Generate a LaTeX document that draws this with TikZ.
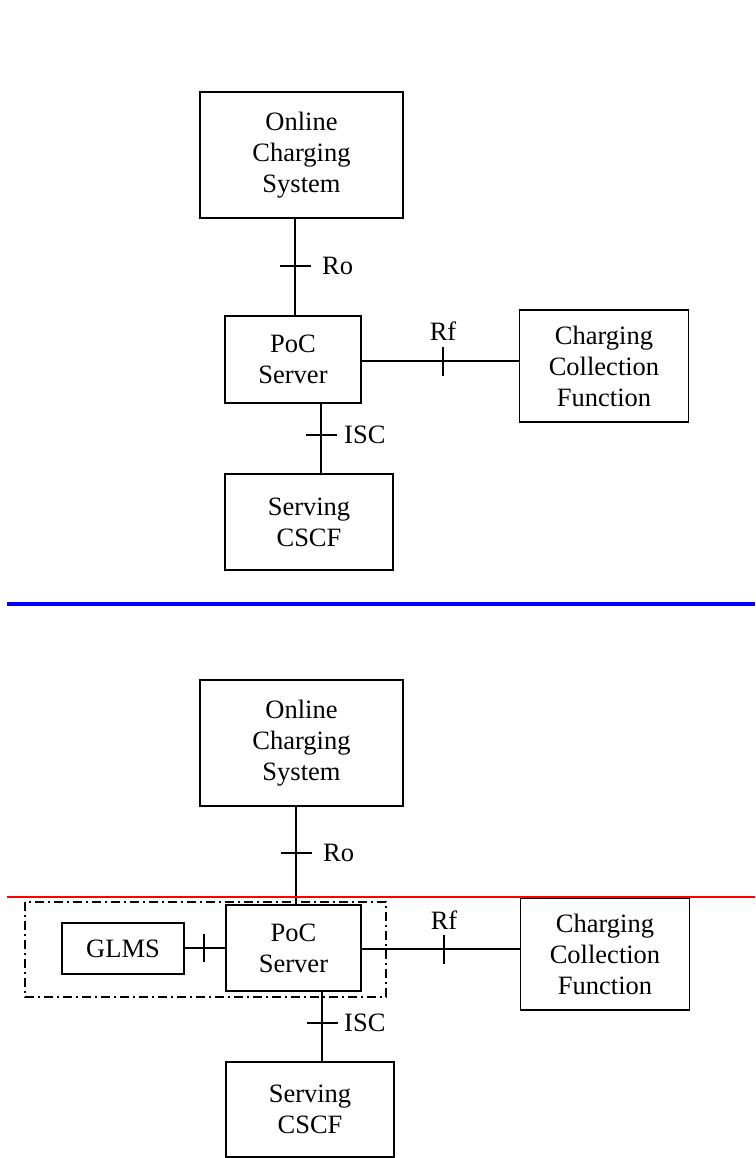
\documentclass[tikz,border=0pt]{standalone}
\usepackage{fontspec}
\setmainfont{Liberation Serif}
\begin{document}
\begin{tikzpicture}[x=1pt,y=-1pt,
  box/.style={draw=black, line width=1.6pt, rectangle, inner sep=0pt, align=center,
    font=\fontsize{26.5}{31}\selectfont},
  conn/.style={draw=black, line width=1.6pt},
  lbl/.style={inner sep=0pt, font=\fontsize{26.5}{31}\selectfont}]
\useasboundingbox (0,0) rectangle (755,1158);

% ---------- top half ----------
\node[box, minimum width=203pt, minimum height=126pt] (ocsA) at (301.5,155) {Online\\Charging\\System};
\node[box, minimum width=136pt, minimum height=87pt] (pocA) at (293,359.5) {PoC\\Server};
\node[box, minimum width=169pt, minimum height=112pt] (ccfA) at (604,366) {Charging\\Collection\\Function};
\node[box, minimum width=168pt, minimum height=96pt] (cscfA) at (309,522) {Serving\\CSCF};

\coordinate (roA) at (295,266);
\coordinate (rfA) at (443,361);
\coordinate (iscA) at (321,435);

\draw[conn] (ocsA.south -| roA) -- (pocA.north -| roA);
\draw[conn] ([xshift=-15.5pt]roA) -- ([xshift=15.5pt]roA);
\node[lbl, anchor=west] (roAl) at (322,266) {Ro};

\draw[conn] (pocA.east |- rfA) -- (ccfA.west |- rfA);
\draw[conn] ([yshift=-14.5pt]rfA) -- ([yshift=14.5pt]rfA);
\node[lbl] (rfAl) at (443,331) {Rf};

\draw[conn] (pocA.south -| iscA) -- (cscfA.north -| iscA);
\draw[conn] ([xshift=-15.5pt]iscA) -- ([xshift=15.5pt]iscA);
\node[lbl, anchor=west] (iscAl) at (344,435) {ISC};

% ---------- separator ----------
\coordinate (blL) at (7,604);
\coordinate (blR) at (755,604);
\draw[blue, line width=3.2pt] (blL) -- (blR);

% ---------- bottom half ----------
\node[box, minimum width=203pt, minimum height=126pt] (ocsB) at (301.5,743) {Online\\Charging\\System};
\node[box, minimum width=135pt, minimum height=86pt] (pocB) at (293.5,948) {PoC\\Server};
\node[box, minimum width=169pt, minimum height=112pt] (ccfB) at (605,954) {Charging\\Collection\\Function};
\node[box, minimum width=168pt, minimum height=95pt] (cscfB) at (310,1109.5) {Serving\\CSCF};
\node[box, minimum width=122pt, minimum height=51pt] (glms) at (123,948.5) {GLMS};

\coordinate (roB) at (296,853);
\coordinate (rfB) at (444,949);
\coordinate (iscB) at (322,1023);
\coordinate (glB) at (204,948);

\draw[conn] (ocsB.south -| roB) -- (pocB.north -| roB);
\draw[conn] ([xshift=-15.5pt]roB) -- ([xshift=15.5pt]roB);
\node[lbl, anchor=west] (roBl) at (323,853) {Ro};

\coordinate (rdL) at (7,897);
\coordinate (rdR) at (755,897);
\draw[red, line width=1.6pt] (rdL) -- (rdR);

\draw[black, line width=1.5pt, dash pattern=on 9pt off 4pt on 2pt off 4pt] (25,902) rectangle (386,997);

\draw[conn] (glms.east |- glB) -- (pocB.west |- glB);
\draw[conn] ([yshift=-14pt]glB) -- ([yshift=14pt]glB);

\draw[conn] (pocB.east |- rfB) -- (ccfB.west |- rfB);
\draw[conn] ([yshift=-14.5pt]rfB) -- ([yshift=14.5pt]rfB);
\node[lbl] (rfBl) at (444,920) {Rf};

\draw[conn] (pocB.south -| iscB) -- (cscfB.north -| iscB);
\draw[conn] ([xshift=-15.5pt]iscB) -- ([xshift=15.5pt]iscB);
\node[lbl, anchor=west] (iscBl) at (344,1023) {ISC};
\end{tikzpicture}
\end{document}
